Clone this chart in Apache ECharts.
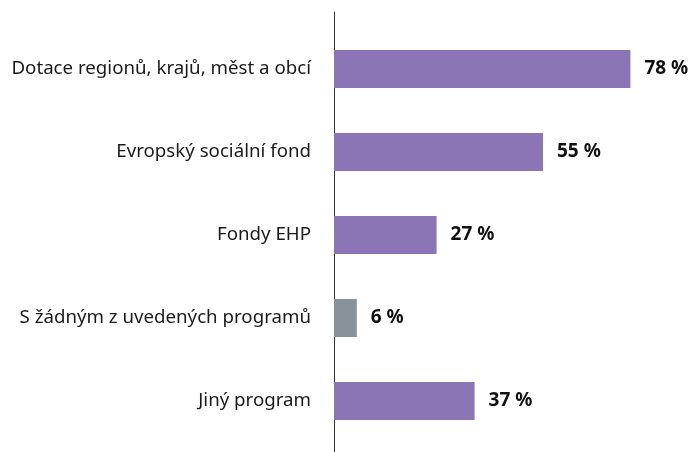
<!DOCTYPE html>
<html>
<head>
<meta charset="utf-8">
<script src="https://cdn.jsdelivr.net/npm/echarts@6/dist/echarts.min.js"></script>
<style>
  html, body { margin: 0; padding: 0; background: #fff; }
  #chart { width: 695px; height: 452px; }
</style>
</head>
<body>
<div id="chart"></div>
<script>
const categories = [
  'Dotace regionů, krajů, měst a obcí',
  'Evropský sociální fond',
  'Fondy EHP',
  'S žádným z uvedených programů',
  'Jiný program'
]
const values = [78, 55, 27, 6, 37]
const barColors = ['#8b75b5', '#8b75b5', '#8b75b5', '#87929a', '#8b75b5']

const chart = echarts.init(document.getElementById('chart'))

chart.setOption({
  animation: false,
  grid: [
    { left: 334, right: 57, top: 27.5, bottom: 9.5 },
    // second grid only carries the tall vertical axis line
    { left: 334, right: 57, top: 12, bottom: 0 }
  ],
  xAxis: [
    { gridIndex: 0, type: 'value', min: 0, max: 80, show: false },
    { gridIndex: 1, type: 'value', min: 0, max: 80, show: false }
  ],
  yAxis: [
    {
      gridIndex: 0,
      type: 'category',
      data: categories,
      inverse: true,
      axisLine: { show: false },
      axisTick: { show: false },
      axisLabel: {
        margin: 23,
        color: '#1a1a1a',
        fontFamily: 'Noto Sans',
        fontSize: 18.7,
        padding: [3, 0, 0, 0]
      }
    },
    {
      gridIndex: 1,
      type: 'value',
      min: 0,
      max: 1,
      axisLine: { show: true, lineStyle: { color: '#333', width: 1 } },
      axisTick: { show: false },
      axisLabel: { show: false },
      splitLine: { show: false }
    }
  ],
  series: [
    {
      type: 'bar',
      xAxisIndex: 0,
      yAxisIndex: 0,
      data: values.map((v, i) => ({ value: v, itemStyle: { color: barColors[i] } })),
      barWidth: 38,
      label: {
        show: true,
        position: 'right',
        distance: 14,
        formatter: '{c} %',
        color: '#111',
        fontFamily: 'Noto Sans',
        fontWeight: 'bold',
        fontSize: 19,
        padding: [3, 0, 0, 0]
      }
    }
  ]
})
</script>
</body>
</html>
